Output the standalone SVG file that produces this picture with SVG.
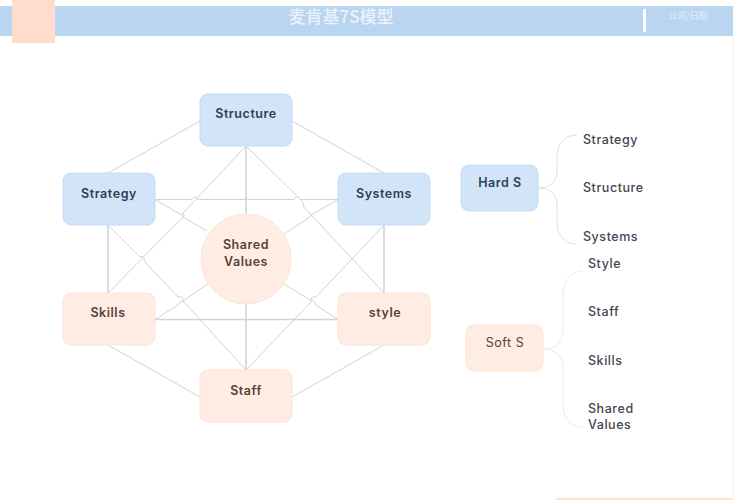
<svg xmlns="http://www.w3.org/2000/svg" width="736" height="500" viewBox="0 0 736 500">
<style>
text{font-family:"Inter","Liberation Sans","Noto Sans CJK SC",sans-serif;text-anchor:middle;font-weight:500;letter-spacing:.55px}
.blue{fill:#D2E4F8;stroke:#C4DCF5;stroke-width:1}
.pink{fill:#FFEDE3;stroke:#FDE3D6;stroke-width:1}
.bt{fill:#2F3F57;font-size:12.5px;font-weight:600}
.pt{fill:#5A413B;font-size:12.5px;font-weight:600}
.lt{fill:#3F4650;font-size:12.5px;text-anchor:start}
.c{fill:none;stroke:#D0D2D5;stroke-width:1}
.c2{fill:none;stroke:#D0D4DA;stroke-width:1.6}
.hb{fill:none;stroke:#D5E2F0;stroke-width:1}
.hp{fill:none;stroke:#FBE6DA;stroke-width:1}
</style>
<rect id="header-bar" x="0" y="6" width="733" height="30" fill="#BAD5EF"/>
<rect id="header-tab" x="12" y="0" width="43" height="43" fill="#FFDCCB"/>
<rect id="header-divider" x="643" y="9" width="3" height="23" fill="#FFFFFF"/>
<text x="341" y="23" font-size="17" fill="#EAF2FA" style="font-family:'Noto Sans CJK SC',sans-serif;font-weight:500;letter-spacing:0">麦肯基7S模型</text>
<text x="688" y="19" font-size="9" fill="#DCEAF8" style="font-family:'Noto Sans CJK SC',sans-serif;letter-spacing:0">公司/日期</text>
<rect x="733" y="36" width="1" height="464" fill="#F3F3F3"/>
<rect x="556" y="498" width="177" height="2" fill="#FFE3D2"/>
<g id="connectors">
<path class="c" d="M200 121L108 173M292 121L384 173M108 345L200 397M384 345L292 397"/>
<path class="c2" d="M246 146V214M246 304V370M108 225V293M384 225V293M155 319.500H338"/>
<path class="c" d="M155 199.500H192Q195 194 198 199.500H246Q246 196 247 199.500H294Q297 194 300 199.500H338"/>
<path class="c" d="M155 199.500L180 214Q183 214 183 217L207 231"/>
<path class="c" d="M338 199.500L313 214Q310 214 310 217L284 234"/>
<path class="c" d="M155 319.500L178 305Q180 300 183 301L208 284"/>
<path class="c" d="M338 319.500L316 305Q313 298 310 300L284 284"/>
<path class="c" d="M246 146L183 213Q186 218 181 219L108 293"/>
<path class="c" d="M246 146L300 199Q305 204 303 206L384 293"/>
<path class="c" d="M108 225L140 257Q145 255 144 261L178 297Q183 295 183 301L246 370"/>
<path class="c" d="M384 225L316 297Q310 296 311 302L246 370"/>
</g>
<g id="node-structure"><rect class="blue" x="200" y="94" width="92" height="52" rx="8"/><text class="bt" x="246" y="118">Structure</text></g>
<g id="node-strategy"><rect class="blue" x="63" y="173" width="92" height="52" rx="8"/><text class="bt" x="109" y="198">Strategy</text></g>
<g id="node-systems"><rect class="blue" x="338" y="173" width="92" height="52" rx="8"/><text class="bt" x="384" y="198">Systems</text></g>
<g id="node-skills"><rect class="pink" x="63" y="293" width="92" height="52" rx="8"/><text class="pt" x="108" y="317">Skills</text></g>
<g id="node-style"><rect class="pink" x="338" y="293" width="92" height="52" rx="8"/><text class="pt" x="385" y="317">style</text></g>
<g id="node-staff"><rect class="pink" x="200" y="370" width="92" height="52" rx="8"/><text class="pt" x="246" y="395">Staff</text></g>
<g id="node-shared"><circle cx="246" cy="259" r="45" fill="#FFEDE3" stroke="#FDE3D6"/><text class="pt" x="246" y="249">Shared</text><text class="pt" x="246" y="266">Values</text></g>
<g id="hard-s-connectors"><path class="hb" d="M539 188C550 188 557 182 557 170V158C557 144 563 135 577 135M539 188C550 188 557 194 557 206V220C557 235 563 244 577 244"/></g>
<g id="node-hard"><rect class="blue" x="461" y="165" width="77" height="46" rx="8"/><text class="bt" x="500" y="187">Hard S</text></g>
<g id="hard-items"><text class="lt" x="583" y="144">Strategy</text><text class="lt" x="583" y="192">Structure</text><text class="lt" x="583" y="241">Systems</text></g>
<g id="soft-s-connectors"><path class="hp" d="M544 349C555 349 563 343 563 331V297C563 282 570 271 582 271M544 349C555 349 563 356 563 368V405C563 418 570 427 582 427"/></g>
<g id="node-soft"><rect class="pink" x="466" y="325" width="77" height="46" rx="8"/><text class="pt" x="505" y="347" style="font-weight:400">Soft S</text></g>
<g id="soft-items"><text class="lt" x="588" y="268">Style</text><text class="lt" x="588" y="316">Staff</text><text class="lt" x="588" y="365">Skills</text><text class="lt" x="588" y="413">Shared</text><text class="lt" x="588" y="429">Values</text></g>
</svg>
